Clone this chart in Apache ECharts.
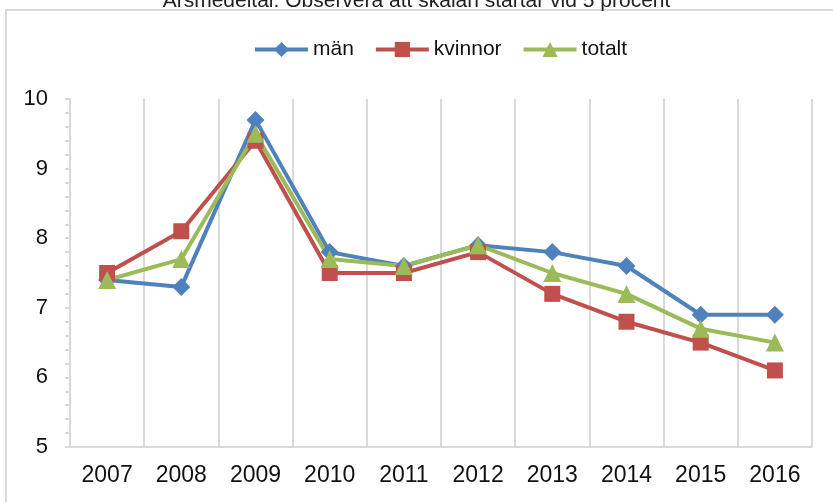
<!DOCTYPE html>
<html><head><meta charset="utf-8">
<script src="https://cdn.jsdelivr.net/npm/echarts@6/dist/echarts.min.js"></script>
<style>html,body{margin:0;padding:0;background:#fff}#c{width:833px;height:502px}</style>
</head><body><div id="c"></div>
<script>
var titleText = 'Årsmedeltal. Observera att skalan startar vid 5 procent';
var years = ['2007','2008','2009','2010','2011','2012','2013','2014','2015','2016'];
var man = [7.4, 7.3, 9.7, 7.8, 7.6, 7.9, 7.8, 7.6, 6.9, 6.9];
var kvinnor = [7.5, 8.1, 9.4, 7.5, 7.5, 7.8, 7.2, 6.8, 6.5, 6.1];
var totalt = [7.4, 7.7, 9.5, 7.7, 7.6, 7.9, 7.5, 7.2, 6.7, 6.5];
var seriesNames = ['män', 'kvinnor', 'totalt'];

var FONT = "'Liberation Sans Narrow', 'Arial Narrow', 'Liberation Sans', sans-serif";
var chart = echarts.init(document.getElementById('c'), null, {renderer: 'canvas'});
function mk(name, data, color, symbol, size) {
  return {
    name: name, type: 'line', data: data,
    symbol: symbol, symbolSize: size,
    lineStyle: {color: color, width: 4},
    itemStyle: {color: color},
    emphasis: {disabled: true}
  };
}
chart.setOption({
  animation: false,
  backgroundColor: '#fff',
  title: {
    text: titleText, left: 'center', top: -14,
    textStyle: {fontFamily: FONT, fontSize: 21, fontWeight: 'normal', color: '#222'}
  },
  graphic: [{
    type: 'rect', shape: {x: 6, y: 10, width: 840, height: 510},
    style: {fill: 'none', stroke: '#d9d9d9', lineWidth: 2}, silent: true
  }],
  legend: {
    data: seriesNames, left: 248, top: 34,
    itemWidth: 53, itemHeight: 19, itemGap: 20,
    lineStyle: {width: 4},
    textStyle: {fontFamily: FONT, fontSize: 21, color: '#111'}
  },
  grid: {left: 70, right: 21, top: 99, bottom: 55},
  xAxis: {
    type: 'category', data: years, boundaryGap: true,
    axisLine: {lineStyle: {color: '#d9d9d9', width: 2}},
    axisTick: {show: false},
    splitLine: {show: true, lineStyle: {color: '#d9d9d9', width: 2}},
    axisLabel: {fontFamily: FONT, fontSize: 23, color: '#111', margin: 17, interval: 0}
  },
  yAxis: {
    type: 'value', min: 5, max: 10, interval: 1,
    axisLine: {show: true, lineStyle: {color: '#d9d9d9', width: 2}},
    axisTick: {show: true, length: 5, lineStyle: {color: '#d9d9d9', width: 2}},
    minorTick: {show: true, splitNumber: 5, length: 5, lineStyle: {color: '#d9d9d9', width: 2}},
    splitLine: {show: false},
    axisLabel: {fontFamily: FONT, fontSize: 22, color: '#111', margin: 22}
  },
  series: [
    mk(seriesNames[0], man, '#4F81BD', 'diamond', 18),
    mk(seriesNames[1], kvinnor, '#C0504D', 'rect', 16),
    mk(seriesNames[2], totalt, '#9BBB59', 'triangle', 18)
  ]
});
</script></body></html>
